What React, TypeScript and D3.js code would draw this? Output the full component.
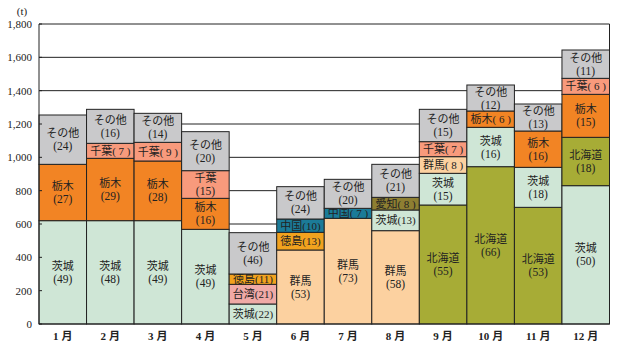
import React from "react";
import * as d3 from "d3";

const months = ["1月", "2月", "3月", "4月", "5月", "6月", "7月", "8月", "9月", "10月", "11月", "12月"];
const yTicks = [0, 200, 400, 600, 800, 1000, 1200, 1400, 1600, 1800];

// segments per month, bottom to top
const segNames: string[][] = [
  ["茨城", "栃木", "その他"],
  ["茨城", "栃木", "千葉", "その他"],
  ["茨城", "栃木", "千葉", "その他"],
  ["茨城", "栃木", "千葉", "その他"],
  ["茨城", "台湾", "徳島", "その他"],
  ["群馬", "徳島", "中国", "その他"],
  ["群馬", "中国", "その他"],
  ["群馬", "茨城", "愛知", "その他"],
  ["北海道", "茨城", "群馬", "千葉", "その他"],
  ["北海道", "茨城", "栃木", "その他"],
  ["北海道", "茨城", "栃木", "その他"],
  ["茨城", "北海道", "栃木", "千葉", "その他"],
];
const segValues: number[][] = [
  [620, 338, 296],
  [620, 374, 90, 204],
  [620, 358, 112, 174],
  [568, 186, 166, 234],
  [120, 118, 62, 248],
  [444, 106, 80, 194],
  [634, 60, 174],
  [560, 124, 76, 198],
  [714, 190, 100, 90, 194],
  [944, 236, 98, 156],
  [700, 240, 218, 162],
  [830, 290, 258, 96, 170],
];
const segPct: number[][] = [
  [49, 27, 24],
  [48, 29, 7, 16],
  [49, 28, 9, 14],
  [49, 16, 15, 20],
  [22, 21, 11, 46],
  [53, 13, 10, 24],
  [73, 7, 20],
  [58, 13, 8, 21],
  [55, 15, 8, 7, 15],
  [66, 16, 6, 12],
  [53, 18, 16, 13],
  [50, 18, 15, 6, 11],
];

const colors: Record<string, string> = {
  "茨城": "#cfe6d6",
  "栃木": "#f28424",
  "千葉": "#f89a7c",
  "その他": "#c9c9cb",
  "台湾": "#f0aaa6",
  "徳島": "#f2a21e",
  "中国": "#1b7b98",
  "群馬": "#fcd1a0",
  "愛知": "#8e7f32",
  "北海道": "#a7ac36",
};

const W = 618, H = 345;
const m = { left: 39, right: 8.5, top: 24, bottom: 21 };
const FONT = "'Liberation Serif', 'DejaVu Serif', 'Noto Sans CJK JP', serif";

export default function App() {
  const x = d3.scaleBand<string>().domain(months).range([m.left, W - m.right]).padding(0);
  const y = d3.scaleLinear().domain([0, 1800]).range([H - m.bottom, m.top]);
  const bw = x.bandwidth();

  return (
    <svg width={W} height={H} style={{ position: "absolute", left: 0, top: 0, background: "#fff" }}
      fontFamily={FONT}>
      {/* gridlines */}
      {yTicks.slice(1).map((t) => (
        <line key={"g" + t} x1={m.left} x2={W - m.right} y1={y(t)} y2={y(t)} stroke="#222" strokeWidth={1} />
      ))}
      <line x1={W - m.right} x2={W - m.right} y1={y(1800)} y2={y(0)} stroke="#222" strokeWidth={1} />
      {/* bars */}
      {months.map((mo, i) => {
        let acc = 0;
        return (
          <g key={mo}>
            {segValues[i].map((v, j) => {
              const y0 = acc;
              acc += v;
              const top = y(acc), bot = y(y0);
              const h = bot - top;
              const name = segNames[i][j];
              const cx = (x(mo) as number) + bw / 2;
              const cy = (top + bot) / 2;
              const pct = segPct[i][j];
              const txtFill = "#222";
              return (
                <g key={j}>
                  <rect x={x(mo)} y={top} width={bw} height={h} fill={colors[name]} stroke="#222" strokeWidth={1} />
                  {h > 25 ? (
                    <text x={cx} y={cy} textAnchor="middle" fontSize={11} fill={txtFill}>
                      <tspan x={cx} dy={-2.5}>{name}</tspan>
                      <tspan x={cx} dy={13} fontSize={11.5}>({pct})</tspan>
                    </text>
                  ) : (
                    <text x={cx} y={cy + 4} textAnchor="middle" fontSize={11} fill={txtFill}>
                      {name}{pct < 10 ? `( ${pct} )` : `(${pct})`}
                    </text>
                  )}
                </g>
              );
            })}
          </g>
        );
      })}
      {/* axes */}
      <line x1={m.left} x2={m.left} y1={y(1800)} y2={y(0)} stroke="#222" strokeWidth={1} />
      <line x1={m.left} x2={W - m.right} y1={y(0)} y2={y(0)} stroke="#222" strokeWidth={1.2} />
      {yTicks.map((t) => (
        <g key={"t" + t}>
          <line x1={m.left} x2={m.left + 3} y1={y(t)} y2={y(t)} stroke="#222" strokeWidth={1} />
          <text x={m.left - 7} y={y(t) + 4} textAnchor="end" fontSize={11} fill="#222">
            {d3.format(",")(t)}
          </text>
        </g>
      ))}
      <text x={22} y={15} textAnchor="middle" fontSize={11} fill="#222">(t)</text>
      {months.map((mo) => (
        <text key={"l" + mo} x={(x(mo) as number) + bw / 2} y={H - 5} textAnchor="middle" fontSize={11}
          fontWeight="bold" fill="#222">
          {mo.replace("月", "")}
          <tspan dx={3}>月</tspan>
        </text>
      ))}
    </svg>
  );
}
